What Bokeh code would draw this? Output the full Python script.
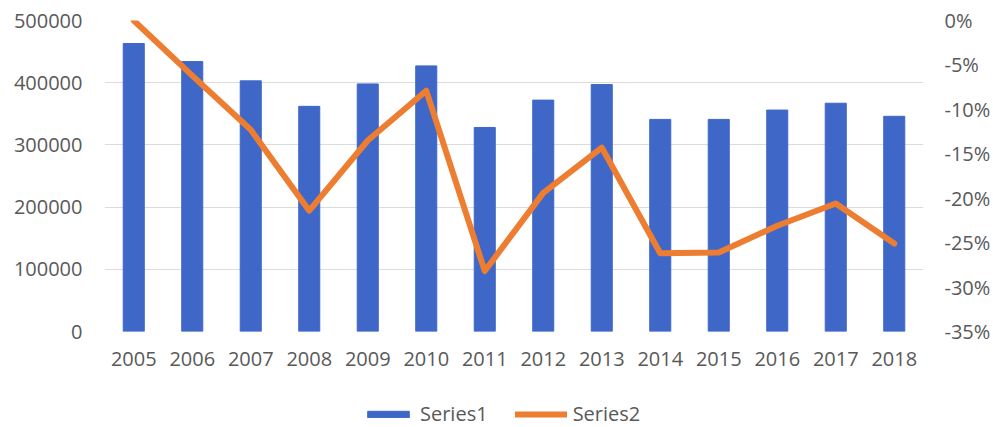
from bokeh.plotting import figure
from bokeh.layouts import column
from bokeh.models import (FactorRange, Range1d, LinearAxis, Legend, LegendItem,
                          NumeralTickFormatter, FixedTicker)
from bokeh.embed import file_html
from bokeh.resources import INLINE

years = ["2005", "2006", "2007", "2008", "2009", "2010", "2011",
         "2012", "2013", "2014", "2015", "2016", "2017", "2018"]
series1 = [463000, 434000, 403000, 362000, 398000, 427000, 328000,
           372000, 397000, 341000, 341000, 356000, 367000, 346000]
series2 = [0.0, -0.062, -0.123, -0.214, -0.135, -0.079, -0.282,
           -0.194, -0.143, -0.262, -0.261, -0.231, -0.206, -0.251]
left_ticks = [0, 100000, 200000, 300000, 400000, 500000]
right_ticks = [-0.35, -0.30, -0.25, -0.20, -0.15, -0.10, -0.05, 0.0]
series_names = ["Series1", "Series2"]

FONT = "Open Sans"
TXT = "#595959"
BLUE = "#3F67C8"
ORANGE = "#ED7D31"

p = figure(x_range=FactorRange(*years), y_range=Range1d(0, 500000),
           width=993, height=380, output_backend="svg", toolbar_location=None,
           min_border_left=104, min_border_right=70, min_border_top=20,
           min_border_bottom=49)
p.outline_line_color = None
p.background_fill_color = "white"

p.extra_y_ranges = {"pct": Range1d(-0.35, 0.0)}

bars = p.vbar(x=years, top=series1, width=0.36, color=BLUE)
line = p.line(x=years, y=series2, y_range_name="pct", line_color=ORANGE,
              line_width=6, line_join="round", line_cap="round")

# left axis
ya = p.yaxis[0]
ya.ticker = FixedTicker(ticks=left_ticks)
ya.formatter = NumeralTickFormatter(format="0")
ya.axis_line_color = None
ya.major_tick_line_color = None
ya.minor_tick_line_color = None
ya.major_label_standoff = 16
ya.major_label_text_font = FONT
ya.major_label_text_font_size = "20px"
ya.major_label_text_color = TXT

# right axis
ra = LinearAxis(y_range_name="pct", ticker=FixedTicker(ticks=right_ticks),
                formatter=NumeralTickFormatter(format="0%"))
ra.axis_line_color = None
ra.major_tick_line_color = None
ra.minor_tick_line_color = None
ra.major_label_standoff = 15
ra.major_label_text_font = FONT
ra.major_label_text_font_size = "20px"
ra.major_label_text_color = TXT
p.add_layout(ra, "right")

# x axis
xa = p.xaxis[0]
xa.axis_line_color = None
xa.major_tick_line_color = None
xa.minor_tick_line_color = None
xa.major_label_standoff = 14
xa.major_label_text_font = FONT
xa.major_label_text_font_size = "20px"
xa.major_label_text_color = TXT

p.xgrid.grid_line_color = None
p.ygrid.ticker = FixedTicker(ticks=left_ticks)
p.ygrid.grid_line_color = "#dcdcdc"
p.ygrid.grid_line_width = 1

# legend strip (separate figure below the chart; its renderers are hidden)
lf = figure(width=993, height=47, output_backend="svg", toolbar_location=None,
            x_range=FactorRange(*years), y_range=Range1d(-10, -5),
            min_border=0, x_axis_type=None, y_axis_type=None)
lf.outline_line_color = None
lf.xgrid.visible = False
lf.ygrid.visible = False
lb = lf.vbar(x=years, top=series1, width=0.36, color=BLUE, visible=False)
ll = lf.line(x=years, y=series2, line_color=ORANGE, line_width=6,
             line_cap="round", visible=False)

legend = Legend(items=[LegendItem(label=series_names[0], renderers=[lb]),
                       LegendItem(label=series_names[1], renderers=[ll])],
                location=(258, 0), orientation="horizontal")
legend.border_line_color = None
legend.background_fill_alpha = 0
legend.padding = 0
legend.margin = 0
legend.spacing = 27
legend.glyph_width = 52
legend.glyph_height = 8
legend.label_standoff = 6
legend.label_height = 20
legend.label_text_font = FONT
legend.label_text_font_size = "20px"
legend.label_text_color = TXT
lf.add_layout(legend, "center")

layout = column(p, lf, spacing=0)
open("out.html", "w").write(file_html(layout, INLINE))
